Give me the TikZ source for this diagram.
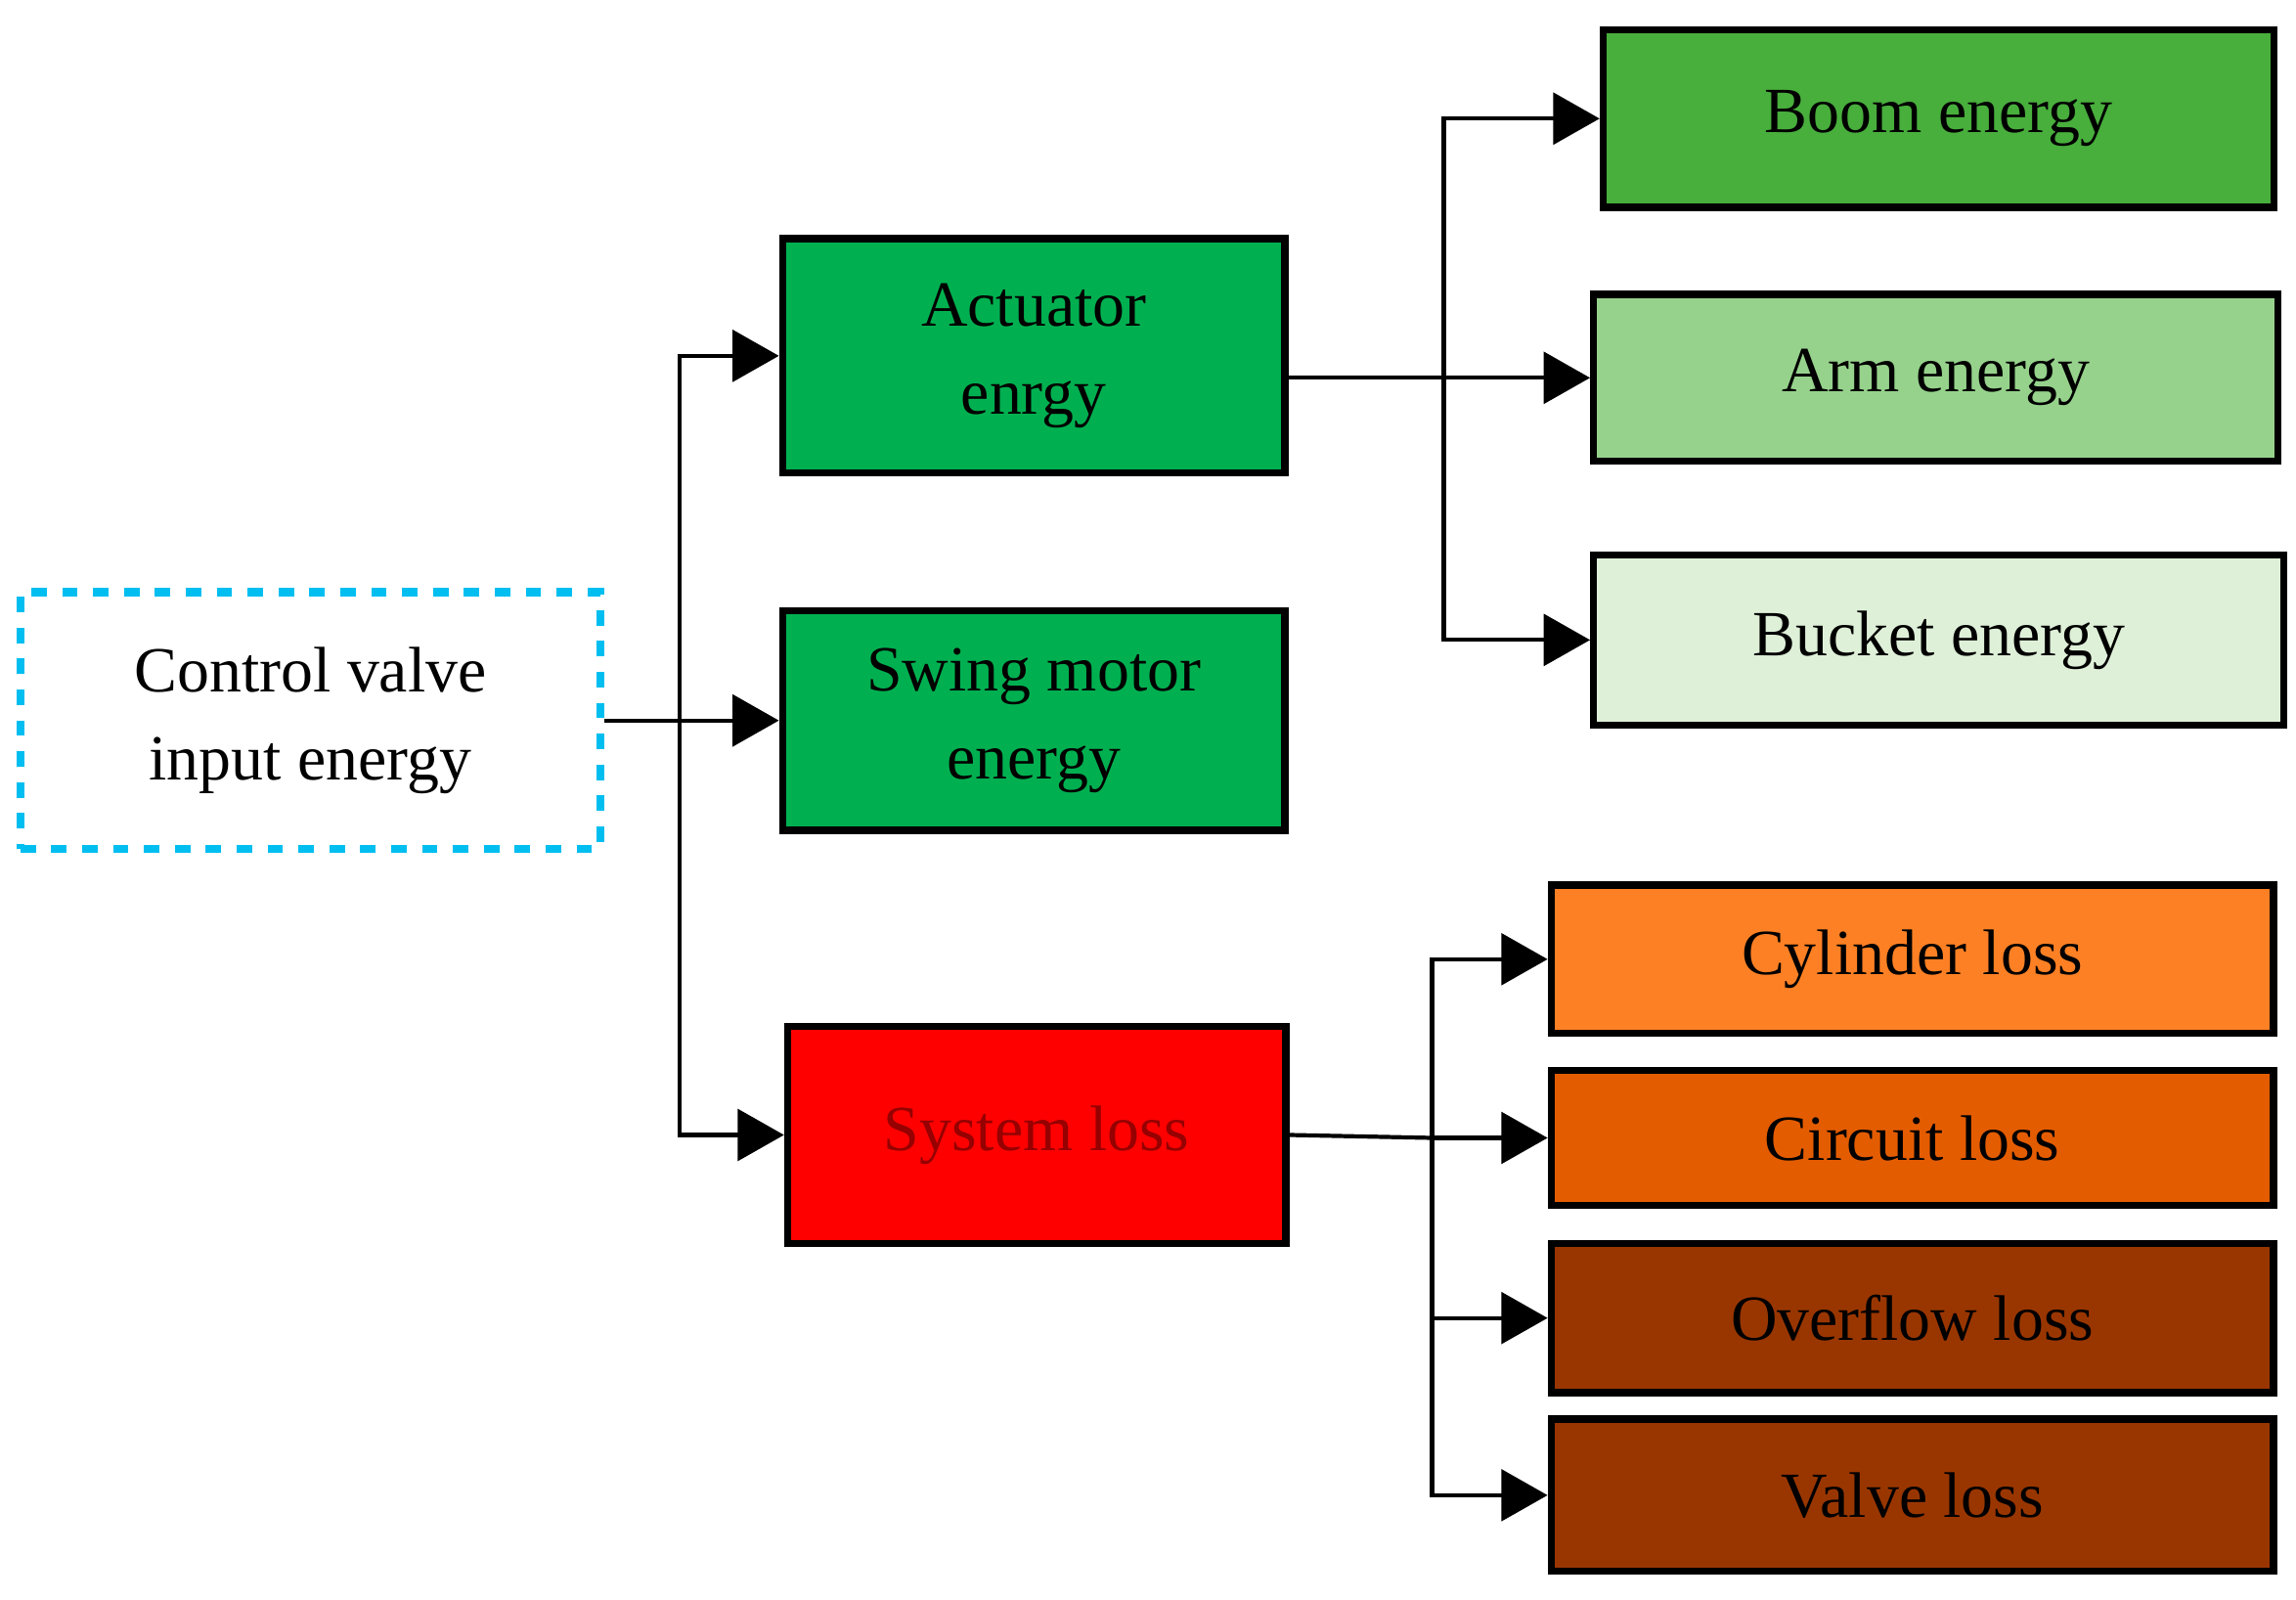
\documentclass[tikz,border=0pt]{standalone}
\usepackage{fontspec}
\setmainfont{Liberation Serif}
\usetikzlibrary{arrows.meta}
\definecolor{dgreen}{RGB}{0,176,80}
\definecolor{boomc}{RGB}{72,174,60}
\definecolor{armc}{RGB}{150,210,140}
\definecolor{bucketc}{RGB}{222,240,216}
\definecolor{cylc}{RGB}{253,128,36}
\definecolor{circc}{RGB}{228,92,0}
\definecolor{lossc}{RGB}{153,54,0}
\definecolor{cyanc}{RGB}{0,190,240}
\definecolor{redtext}{RGB}{150,0,0}
\tikzset{
  box/.style = {draw, line width=1.4pt, align=center, inner sep=0pt,
    font=\fontsize{12.5}{17}\selectfont},
  link/.style = {line width=0.8pt, -{Triangle[length=9pt, width=10pt]}},
  plain/.style = {line width=0.8pt}
}
\begin{document}
\begin{tikzpicture}[x=0.01cm, y=-0.01cm]
  \useasboundingbox (0,0) rectangle (1568,1092);
  %left box
  \node[box, draw=cyanc, dashed, line width=1.6pt, minimum width=3.96cm, minimum height=1.75cm] (ctrl) at (212,492) {Control valve\\input energy};
  %middle column
  \node[box, fill=dgreen, minimum width=3.43cm, minimum height=1.6cm] (act) at (706,243) {Actuator\\enrgy};
  \node[box, fill=dgreen, minimum width=3.43cm, minimum height=1.5cm] (swing) at (706,492) {Swing motor\\energy};
  \node[box, fill=red, text=redtext, minimum width=3.4cm, minimum height=1.48cm] (sys) at (708,775) {System loss};
  %energy column
  \node[box, fill=boomc, minimum width=4.58cm, minimum height=1.21cm] (boom) at (1324,81) {Boom energy};
  \node[box, fill=armc, minimum width=4.67cm, minimum height=1.14cm] (arm) at (1322,258) {Arm energy};
  \node[box, fill=bucketc, minimum width=4.71cm, minimum height=1.16cm] (bucket) at (1324,437) {Bucket energy};
  %loss column
  \node[box, fill=cylc, minimum width=4.93cm, minimum height=1.01cm] (cyl) at (1306,655) {Cylinder loss};
  \node[box, fill=circc, minimum width=4.93cm, minimum height=0.92cm] (circ) at (1306,777) {Circuit loss};
  \node[box, fill=lossc, minimum width=4.93cm, minimum height=1.02cm] (over) at (1306,900) {Overflow loss};
  \node[box, fill=lossc, minimum width=4.93cm, minimum height=1.04cm] (valve) at (1306,1021) {Valve  loss};
  %trunk
  \coordinate (t) at (464,492);
  \draw[link] (ctrl.east) -- (swing.west);
  \draw[link] (t) |- (act.west);
  \draw[link] (t) |- (sys.west);
  %energy branch
  \coordinate (e) at (986,258);
  \draw[link] (act.east |- arm) -- (arm.west);
  \draw[link] (e) |- (boom.west);
  \draw[link] (e) |- (bucket.west);
  %loss branch
  \coordinate (l) at (978,777);
  \draw[plain] (sys.east) -- (l);
  \draw[link] (l) -- (circ.west);
  \draw[link] (l) |- (cyl.west);
  \draw[link] (l) |- (over.west);
  \draw[link] (l) |- (valve.west);
\end{tikzpicture}
\end{document}
